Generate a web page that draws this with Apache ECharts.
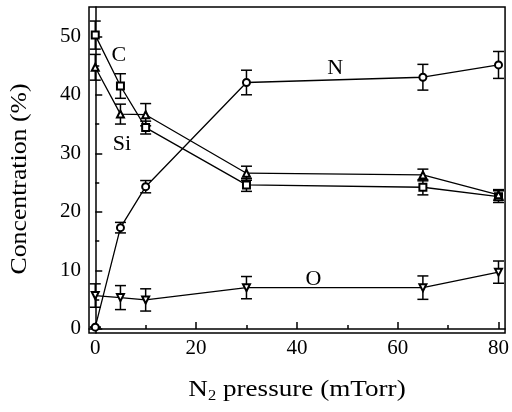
<!DOCTYPE html>
<html>
<head>
<meta charset="utf-8">
<script src="https://cdn.jsdelivr.net/npm/echarts@6/dist/echarts.min.js"></script>
<style>
  html, body { margin: 0; padding: 0; background: #fff; }
  #chart { width: 512px; height: 412px; }
</style>
</head>
<body>
<div id="chart"></div>
<script>
// N2 pressure (mTorr) at which each film was deposited
const pressure = [0, 5, 10, 30, 65, 80];

// Atomic concentrations (%) and their uncertainties
const nitrogen    = [0.3, 17.3, 24.3, 42.1, 43.0, 45.1];
const nitrogenErr = [0, 0.9, 1.05, 2.1, 2.2, 2.3];
const carbon      = [50.2, 41.5, 34.4, 24.6, 24.2, 22.6];
const carbonErr   = [2.4, 2.1, 1.1, 1.1, 1.3, 1.0];
const silicon     = [44.7, 36.7, 36.6, 26.6, 26.3, 22.9];
const siliconErr  = [2.2, 1.7, 1.9, 1.2, 1.0, 0.9];
const oxygen      = [5.7, 5.35, 4.95, 7.05, 7.05, 9.7];
const oxygenErr   = [2.0, 2.05, 1.9, 1.9, 2.0, 1.9];

// Axis ticks
const xMajor = [0, 20, 40, 60, 80];
const xMinor = [10, 30, 50, 70];
const yMajor = [0, 10, 20, 30, 40, 50];
const yMinor = [5, 15, 25, 35, 45];

// Element names written next to their curves
const curveNames   = ['C', 'Si', 'N', 'O'];
const namePressure = [4.7, 5.3, 47.6, 43.3];
const nameConc     = [46.8, 31.6, 44.6, 8.5];

const FONT = "'Liberation Serif', 'Times New Roman', serif";

function points(vals) {
  return pressure.map((p, i) => [p, vals[i]]);
}
function bars(vals, errs) {
  return pressure.map((p, i) => [p, vals[i] - errs[i], vals[i] + errs[i]]);
}

function errorBarItem(params, api) {
  const x = api.value(0);
  const lo = api.coord([x, api.value(1)]);
  const hi = api.coord([x, api.value(2)]);
  const w = 5.5;
  const st = { stroke: '#000', lineWidth: 1.5 };
  return {
    type: 'group',
    children: [
      { type: 'line', shape: { x1: lo[0], y1: lo[1], x2: hi[0], y2: hi[1] }, style: st },
      { type: 'line', shape: { x1: lo[0] - w, y1: lo[1], x2: lo[0] + w, y2: lo[1] }, style: st },
      { type: 'line', shape: { x1: hi[0] - w, y1: hi[1], x2: hi[0] + w, y2: hi[1] }, style: st }
    ]
  };
}

function errSeries(vals, errs) {
  return {
    type: 'custom',
    renderItem: errorBarItem,
    data: bars(vals, errs),
    encode: { x: 0, y: [1, 2] },
    z: 1,
    silent: true
  };
}

function lineSeries(vals, symbol, rotate) {
  return {
    type: 'line',
    data: points(vals),
    symbol: symbol,
    symbolSize: 7,
    symbolRotate: rotate || 0,
    showSymbol: true,
    showAllSymbol: true,
    lineStyle: { color: '#000', width: 1.3 },
    itemStyle: { color: '#000', borderWidth: 1 },
    z: 3,
    silent: true,
    animation: false
  };
}

const chart = echarts.init(document.getElementById('chart'), null, { renderer: 'canvas' });

const axisLineStyle = { color: '#000', width: 1.5 };

chart.setOption({
  animation: false,
  backgroundColor: '#fff',
  grid: {
    left: 89, right: 4, top: 7, bottom: 79,
    show: true, borderColor: '#000', borderWidth: 1.5
  },
  xAxis: [
    {
      type: 'value', min: -1.24, max: 81.3,
      axisLine: { lineStyle: axisLineStyle },
      axisTick: { inside: true, length: 7, customValues: xMajor, lineStyle: axisLineStyle },
      axisLabel: { customValues: xMajor, margin: 5, color: '#000', fontFamily: FONT, fontSize: 21 },
      splitLine: { show: false }
    },
    {
      type: 'value', min: -1.24, max: 81.3, position: 'bottom',
      axisLine: { show: false },
      axisTick: { inside: true, length: 4, customValues: xMinor, lineStyle: axisLineStyle },
      axisLabel: { show: false },
      splitLine: { show: false }
    }
  ],
  yAxis: [
    {
      type: 'value', min: -0.7, max: 55,
      axisLine: { show: true, lineStyle: axisLineStyle },
      axisTick: { show: true, inside: true, length: 7, customValues: yMajor, lineStyle: axisLineStyle },
      axisLabel: { customValues: yMajor, margin: 8, color: '#000', fontFamily: FONT, fontSize: 21 },
      splitLine: { show: false }
    },
    {
      type: 'value', min: -0.7, max: 55, position: 'left',
      axisLine: { show: false },
      axisTick: { show: true, inside: true, length: 4, customValues: yMinor, lineStyle: axisLineStyle },
      axisLabel: { show: false },
      splitLine: { show: false }
    }
  ],
  graphic: [
    {
      type: 'text',
      x: 20, y: 179,
      rotation: Math.PI / 2,
      scaleX: 1.12,
      style: {
        text: 'Concentration (%)',
        fill: '#000',
        font: '23px ' + FONT,
        align: 'center',
        verticalAlign: 'middle'
      }
    },
    {
      type: 'text',
      x: 297, y: 390,
      scaleX: 1.18,
      style: {
        text: 'N{sub|2} pressure (mTorr)',
        fill: '#000',
        font: '23px ' + FONT,
        align: 'center',
        verticalAlign: 'middle',
        rich: {
          sub: { font: '14px ' + FONT, fill: '#000', padding: [12, 0, 0, 0] }
        }
      }
    }
  ],
  series: [
    errSeries(nitrogen, nitrogenErr),
    errSeries(carbon, carbonErr),
    errSeries(silicon, siliconErr),
    errSeries(oxygen, oxygenErr),
    lineSeries(nitrogen, 'emptyCircle'),
    lineSeries(carbon, 'emptyRect'),
    lineSeries(silicon, 'emptyTriangle'),
    lineSeries(oxygen, 'emptyTriangle', 180),
    {
      // curve names placed at data coordinates
      type: 'custom',
      silent: true,
      z: 4,
      data: curveNames.map((n, i) => [namePressure[i], nameConc[i]]),
      encode: { x: 0, y: 1 },
      renderItem: function (params, api) {
        const p = api.coord([api.value(0), api.value(1)]);
        return {
          type: 'text',
          x: p[0], y: p[1],
          style: {
            text: curveNames[params.dataIndex],
            fill: '#000',
            font: '22px ' + FONT,
            align: 'center',
            verticalAlign: 'middle'
          }
        };
      }
    }
  ]
});
</script>
</body>
</html>
